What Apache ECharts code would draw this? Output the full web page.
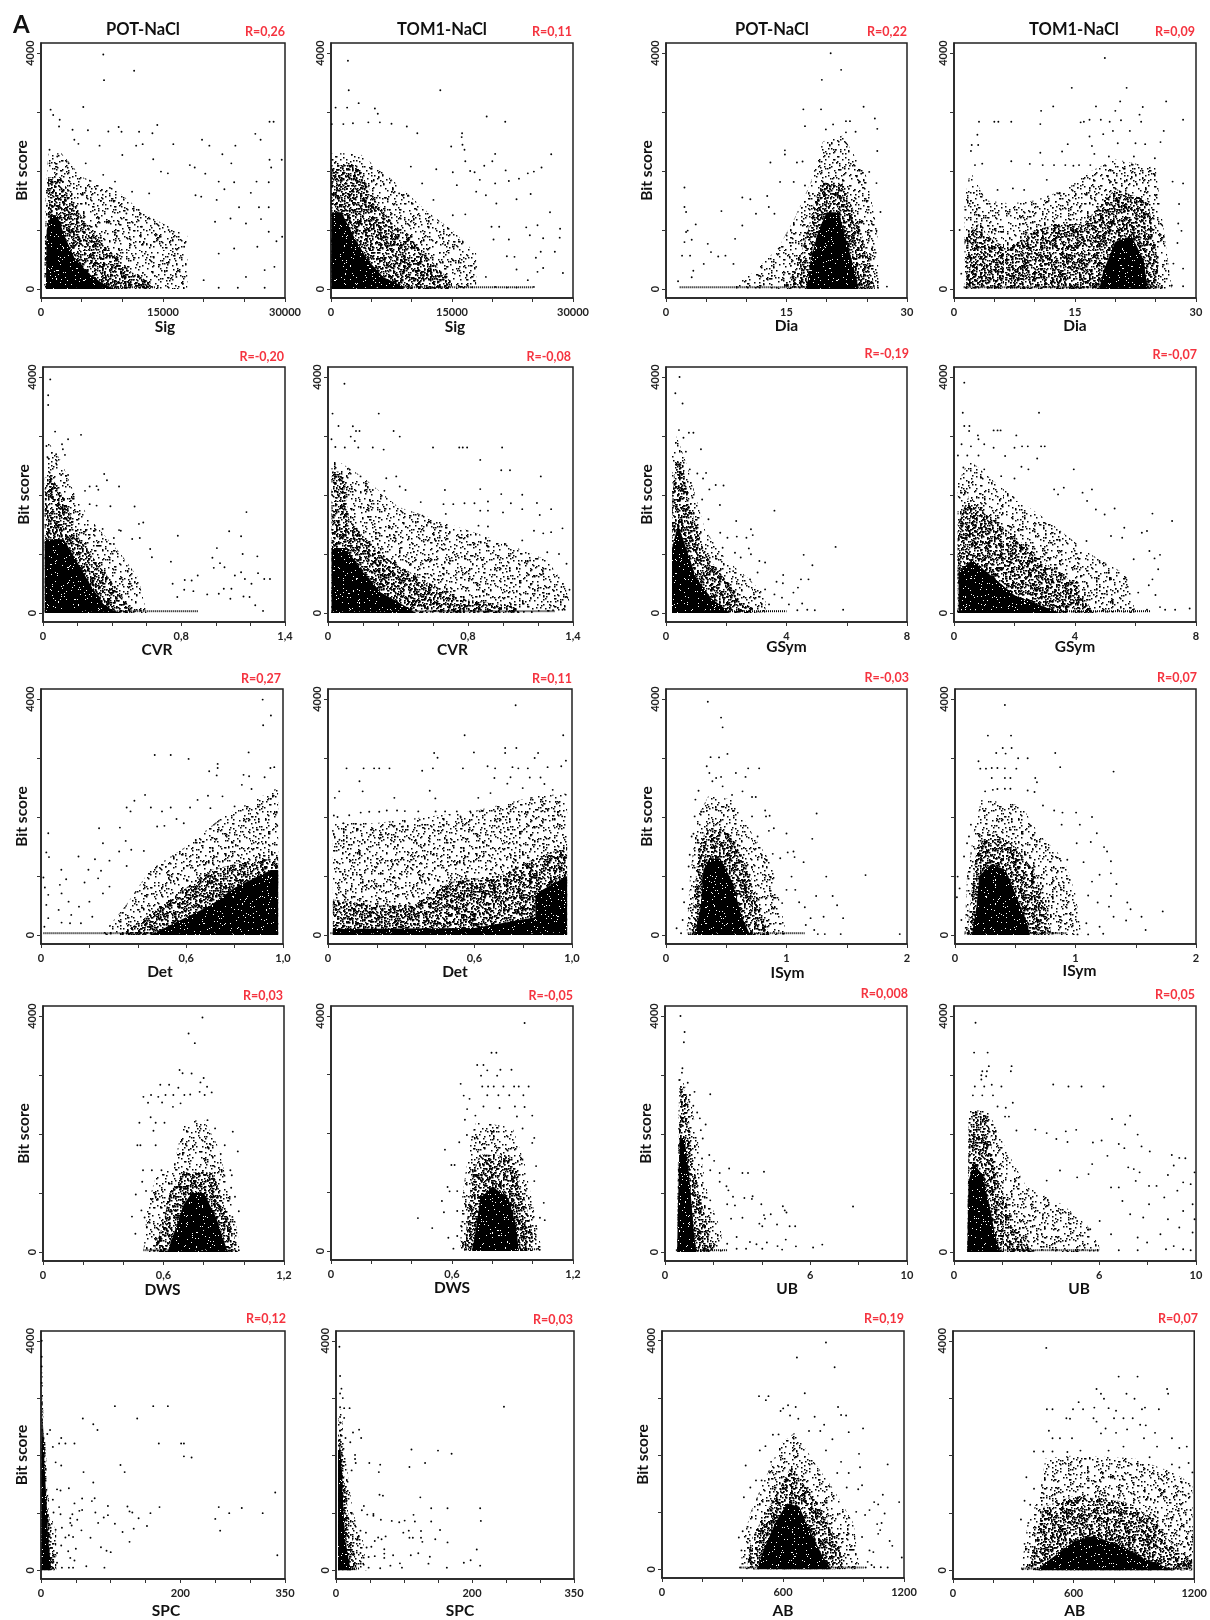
<!DOCTYPE html>
<html><head><meta charset="utf-8">
<script src="https://cdn.jsdelivr.net/npm/echarts@6/dist/echarts.min.js"></script>
<style>html,body{margin:0;padding:0;background:#fff}#c{width:1210px;height:1620px}</style></head>
<body><div id="c"></div>
<script>
// NOTE: the reference has thousands of points per panel. The *Dots arrays are a hand-read sample of
// the visible sparse points. The dense clouds are NOT individual points: *Lite/*Mid/*Solid are outlines
// estimated from the picture and filled with a stipple texture, so those speckles carry no data.
// Tick labels
const yTickValues=[0,1000,2000,3000,4000];
const yLabelValues=[0,4000];
const sigTicks=[0,5000,10000,15000,20000,25000,30000], sigLabels=[[0,'0'],[15000,'15000'],[30000,'30000']];
const diaTicks=[0,5,10,15,20,25,30], diaLabels=[[0,'0'],[15,'15'],[30,'30']];
const cvrTicks=[0,.2,.4,.6,.8,1,1.2,1.4], cvrLabels=[[0,'0'],[.8,'0,8'],[1.4,'1,4']];
const gsymTicks=[0,2,4,6,8], gsymLabels=[[0,'0'],[4,'4'],[8,'8']];
const detTicks=[0,.2,.4,.6,.8,1], detLabels=[[0,'0'],[.6,'0,6'],[1,'1,0']];
const isymTicks=[0,.5,1,1.5,2], isymLabels=[[0,'0'],[1,'1'],[2,'2']];
const dwsTicks=[0,.2,.4,.6,.8,1,1.2], dwsLabels=[[0,'0'],[.6,'0,6'],[1.2,'1,2']];
const ubTicks=[0,2,4,6,8,10], ubLabels=[[0,'0'],[6,'6'],[10,'10']];
const spcTicks=[0,50,100,150,200,250,300,350], spcLabels=[[0,'0'],[200,'200'],[350,'350']];
const abTicks=[0,200,400,600,800,1000,1200], abLabels=[[0,'0'],[600,'600'],[1200,'1200']];

// Sig POT
const sigPotSolid=[[600,0],[700,1000],[1200,1250],[2000,1250],[2900,900],[4200,500],[6000,250],[7500,100],[9000,0]];
const sigPotMid=[[400,0],[500,1000],[900,1900],[2500,1900],[4200,1400],[6500,900],[8500,650],[11000,300],[13500,100],[13500,0]];
const sigPotLite=[[500,0],[500,1500],[900,2300],[2500,2300],[5000,1900],[9000,1700],[13000,1250],[18000,900],[18000,0]];
const sigPotBase=[[600,30],[14000,30]];
const sigPotDots=[[7660,3975],[11450,3700],[7750,3540],[5200,3085],[1180,3040],[1500,2950],[2300,2870],[2220,2755],[3880,2700],[5770,2690],[4100,2530],[4600,2460],[8280,2670],[9550,2745],[9900,2665],[12060,2665],[13700,2640],[14300,2780],[12500,2455],[11700,2430],[16270,2455],[19800,2530],[20700,2430],[23900,2430],[26350,2630],[27000,2530],[28100,2835],[28600,2835],[29600,2190],[28100,2190],[28300,2060],[22300,2285],[23400,2130],[18300,2100],[18900,2060],[14750,1990],[15600,1960],[20200,1955],[21850,1820],[23750,1810],[26500,1820],[28000,1810],[22550,1690],[25800,1630],[19000,1590],[19700,1565],[21600,1510],[24350,1385],[26800,1385],[28000,1385],[27050,1185],[23300,1195],[25200,1110],[21400,1140],[28000,970],[29650,885],[28950,810],[23750,685],[26600,715],[21850,600],[28700,375],[27500,320],[25200,205],[24200,20],[21850,20],[27500,20],[20000,150],[16650,205],[17600,715],[13800,545],[15700,1000],[12400,1055],[10500,1280],[11200,1650],[13300,1620],[9100,1820],[7650,1935],[7200,2430],[10000,2270],[13800,2200],[5500,2130],[3400,2130],[1050,2360],[2000,2245],[1050,2130]];
// Sig TOM1
const sigTomSolid=[[100,0],[100,1300],[1300,1300],[2800,900],[4500,500],[6500,200],[9000,40],[9000,0]];
const sigTomMid=[[50,0],[50,2100],[3200,2100],[5500,1500],[7800,1100],[10500,750],[13000,400],[15000,100],[15000,0]];
const sigTomLite=[[50,0],[50,2300],[3500,2300],[8000,1800],[12000,1300],[15000,1000],[18000,600],[18000,0]];
const sigTomBase=[[100,30],[25000,30]];
const sigTomDots=[[2100,3870],[2200,3370],[3430,3150],[570,3075],[2000,3075],[5440,3060],[5800,2970],[100,2795],[1530,2795],[2720,2810],[4630,2825],[6060,2825],[7500,2800],[9400,2755],[10700,2640],[13550,3370],[19300,2925],[21600,2835],[16250,2640],[16200,2575],[16300,2445],[14900,2415],[16550,2360],[27300,2285],[20350,2290],[16650,2165],[20000,2165],[19000,2090],[26100,2060],[21650,2010],[25150,1990],[24400,1960],[13050,2030],[15100,1980],[17250,2000],[17800,1980],[18450,1850],[22050,1830],[23300,1870],[20350,1790],[15600,1760],[18000,1650],[19200,1590],[24750,1610],[23000,1520],[20500,1450],[27150,1300],[16650,1265],[15100,1250],[24200,1045],[25600,1080],[28400,1020],[24650,910],[26300,860],[28350,870],[19900,1055],[20850,1055],[20150,840],[22050,840],[27750,630],[26000,630],[25400,530],[21800,555],[22750,545],[23000,330],[26300,355],[25600,290],[28750,270],[24400,150],[25150,35],[23000,25],[20350,35],[21800,25],[17500,30],[19200,205],[18000,375],[15100,490],[14150,745],[11300,1790],[12700,1510],[9900,2075],[8450,1620]];
// Dia POT
const diaPotSolid=[[17.5,0],[18,500],[19,1000],[20,1300],[21.5,1300],[22.5,800],[23.5,300],[24,0]];
const diaPotMid=[[14.5,0],[16,300],[17.5,900],[18.5,1500],[19.5,1800],[22,1800],[24,1100],[25.5,400],[26,0]];
const diaPotLite=[[8,0],[11,300],[14,700],[16,1200],[18,1800],[19.5,2500],[22,2600],[25,1900],[26.3,1000],[26.5,0]];
const diaPotBase=[[1.7,30],[26,30]];
const diaPotDots=[[20.5,3995],[21.8,3715],[19.4,3545],[17.1,3045],[19.3,3045],[24.6,3090],[26,2890],[26.3,2715],[17.3,2760],[22.4,2845],[22.9,2845],[20.8,2790],[19.9,2705],[22.4,2655],[23.6,2665],[13,2145],[14.8,2280],[14.8,2350],[16.3,2145],[17,2160],[14.2,1815],[15.9,1815],[17.3,1755],[12.6,1575],[9.5,1550],[10.5,1520],[6.9,1320],[2.3,1720],[2.3,1390],[2.5,1305],[3.7,1095],[2.5,965],[2.7,990],[3.2,835],[2.3,795],[2,565],[3,565],[5.2,765],[5.6,625],[6.5,550],[7.4,565],[8.4,425],[3.4,310],[3.2,200],[1.5,130],[4.7,425],[9.5,1075],[8.6,850],[11.2,1275],[12.8,1390],[13.5,1275],[24.3,1955],[25.3,1985],[26.2,1795],[26.7,1305],[26.3,2340],[27.5,40],[26.2,990],[25.7,710]];
// Dia TOM1
const diaTomSolid=[[18,0],[18.5,300],[20,800],[22,900],[23.5,500],[24,0]];
const diaTomMid=[[1.5,0],[1.5,900],[3,1100],[5,800],[7,700],[10,1000],[13,1100],[16,1100],[18,1400],[20,1700],[24,1500],[25,800],[25.5,0]];
const diaTomLite=[[1.3,0],[1.3,1500],[2,2000],[4,1500],[7,1450],[10,1500],[14,1700],[17,2000],[20,2200],[25,2050],[26,1000],[27,0]];
const diaTomBase=[[1.2,30],[26,30]];
const diaTomDots=[[18.7,3915],[14.6,3410],[21.4,3410],[26.3,3180],[20.6,3180],[12.3,3095],[10.8,3020],[17.6,3095],[20,3020],[23.4,3085],[23,2955],[28.4,2870],[3.1,2835],[5,2835],[5.5,2835],[7.1,2835],[10.7,2795],[15.7,2825],[16.1,2835],[16.8,2870],[18.2,2870],[19.3,2835],[20.7,2860],[23.2,2835],[2.9,2615],[26,2680],[19.7,2680],[21.8,2680],[18.5,2625],[16.8,2585],[2.2,2440],[3,2440],[2.1,2340],[14.1,2455],[17.1,2425],[20.3,2470],[22.5,2470],[23.7,2455],[25.6,2490],[10.7,2310],[13.4,2330],[17.4,2290],[19.2,2245],[22.3,2245],[24.9,2215],[2.6,2100],[3.5,2125],[7.1,2165],[9.4,2120],[11,2100],[12.4,2100],[13.8,2100],[14.8,2090],[15.5,2100],[16.9,2100],[27.1,1820],[28.4,1790],[27.9,1440],[27.8,1110],[28.2,985],[27.7,780],[27.2,430],[28.4,345],[28.4,45],[27,60],[.7,1000],[.9,260],[7.3,1705],[5.4,1680],[4,1510],[8.7,1680],[11.5,1850],[12.9,1620]];
// CVR POT
const cvrPotSolid=[[.01,0],[.01,1250],[.12,1250],[.2,850],[.28,450],[.35,150],[.4,50],[.45,0]];
const cvrPotMid=[[.01,0],[.01,2300],[.05,2300],[.13,1900],[.2,1300],[.3,900],[.42,450],[.5,100],[.55,0]];
const cvrPotLite=[[.01,0],[.01,2300],[.03,2900],[.1,2600],[.2,1900],[.3,1500],[.45,1000],[.55,600],[.6,0]];
const cvrPotBase=[[.01,30],[.9,30]];
const cvrPotDots=[[.042,3960],[.03,3690],[.03,3525],[.07,3075],[.22,3020],[.145,2945],[.11,2860],[.02,2830],[.115,2775],[.076,2690],[.127,2680],[.027,2635],[.076,2535],[.354,2355],[.37,2250],[.105,2340],[.145,2340],[.27,2145],[.31,2150],[.44,2145],[.243,2070],[.32,2090],[.27,1845],[.31,1820],[.39,1810],[.53,1805],[.58,1535],[.555,1510],[.44,1405],[.345,1425],[.78,1310],[1.177,1710],[1.077,1385],[1.146,1300],[1.006,1100],[1.155,1000],[1.24,960],[.98,935],[1.024,845],[.988,765],[1.05,775],[1.11,635],[1.146,690],[1.244,675],[1.168,575],[1.28,575],[1.313,575],[1.206,495],[1.046,410],[1.09,410],[.95,315],[1.017,325],[1.16,280],[1.195,270],[1.084,240],[1.228,130],[1.273,35],[.895,635],[.82,560],[.86,550],[.75,495],[.74,870],[.63,945],[.62,1085],[.56,1270],[.516,1255],[.41,1270],[.41,1170],[.45,1395],[.87,370],[.817,395],[.777,270]];
// CVR TOM1
const cvrTomSolid=[[.02,0],[.02,1100],[.1,1100],[.2,700],[.3,350],[.45,100],[.5,0]];
const cvrTomMid=[[.02,0],[.02,2400],[.08,2400],[.12,1600],[.2,1300],[.35,900],[.55,550],[.75,250],[1.05,120],[1.1,0]];
const cvrTomLite=[[.02,0],[.02,2650],[.2,2300],[.4,1800],[.7,1500],[1,1200],[1.25,900],[1.35,500],[1.4,0]];
const cvrTomBase=[[.02,30],[1.3,30]];
const cvrTomDots=[[.094,3885],[.026,3380],[.29,3380],[.06,3170],[.142,3165],[.16,3085],[.18,3085],[.13,2990],[.153,2915],[.02,2945],[.375,3085],[.41,2990],[.042,2815],[.096,2805],[.173,2805],[.256,2805],[.318,2770],[.6,2805],[.75,2805],[.77,2805],[.795,2805],[.995,2805],[.87,2595],[.99,2420],[1.04,2420],[1.216,2315],[.39,2315],[.186,2315],[.333,2285],[1.11,2005],[.99,2015],[.87,2100],[.668,2085],[.443,2085],[.41,2145],[.322,2070],[.213,2085],[.256,2085],[.53,1880],[.66,1845],[.716,1845],[.78,1860],[.837,1860],[.914,1890],[1.045,1860],[1.194,1865],[1.275,1760],[1.21,1660],[.87,1735],[.914,1735],[1,1705],[1.11,1760],[1.34,1435],[1.275,1370],[1.23,1350],[1.177,1395],[1.363,835],[1.32,1000],[1.253,1030],[1.334,440],[1.38,395],[1.358,270],[1.34,55],[1.286,45],[1.264,325],[1.2,465],[1.23,665],[1.155,890],[1.11,1230],[.86,1480],[.914,1465],[.673,1680],[.607,1510],[.54,1650]];
// GSym POT
const gsymPotSolid=[[.2,0],[.2,1100],[.4,1500],[.6,1200],[1,600],[1.5,250],[2,60],[2.1,0]];
const gsymPotMid=[[.2,0],[.2,1800],[.3,2600],[.55,2500],[.9,1650],[1.3,1000],[2,550],[2.5,200],[3,50],[3.2,0]];
const gsymPotLite=[[.2,0],[.2,2700],[.35,3000],[.7,2500],[1.3,1400],[2,900],[2.7,600],[3.3,300],[3.3,0]];
const gsymPotBase=[[.2,30],[4,30]];
const gsymPotDots=[[.45,4000],[.31,3725],[.55,3550],[.43,3100],[.76,3055],[.91,3055],[.58,2970],[1.16,2775],[.66,2735],[.79,2435],[1.33,2375],[1.04,2365],[1.23,2280],[1.65,2170],[1.91,2160],[1.44,2095],[.88,1955],[1.79,1830],[1.2,1925],[3.6,1735],[2.33,1560],[1.41,1590],[2.82,1420],[2.88,1320],[2.35,1295],[2.67,1275],[1.8,1360],[2.04,1275],[5.63,1120],[4.57,985],[2.75,1095],[2.82,995],[1.88,1105],[2.29,1020],[4.86,810],[3.1,880],[3.29,855],[3.89,645],[3.88,505],[4.48,570],[4.73,570],[4.38,430],[2.79,570],[3.29,400],[3.67,530],[4.23,345],[3.85,260],[4.52,160],[4.69,55],[4.94,45],[5.88,55],[4.08,145],[4.36,45],[2.48,940],[2.23,710],[3.04,685],[3.6,315],[2.92,315],[3.42,145]];
// GSym TOM1
const gsymTomSolid=[[.15,0],[.15,700],[.6,900],[1.3,600],[2,300],[3,100],[3.5,0]];
const gsymTomMid=[[.12,0],[.12,1500],[.5,2000],[1,1700],[2,1300],[3,850],[4,500],[4.5,100],[4.6,0]];
const gsymTomLite=[[.12,0],[.12,2200],[.5,2600],[1.5,2150],[3,1600],[4.5,1000],[5.7,650],[6,0]];
const gsymTomBase=[[.1,30],[6.5,30]];
const gsymTomDots=[[.34,3905],[.29,3395],[2.81,3395],[.34,3170],[.51,3170],[.5,3085],[1.31,3095],[1.44,3095],[1.54,3095],[.79,3010],[2.06,3010],[.81,2945],[.25,2860],[.56,2825],[1,2860],[1.31,2800],[2,2800],[2.25,2825],[2.44,2825],[2.88,2825],[3,2825],[.13,2670],[.44,2670],[.81,2670],[1.69,2660],[2.75,2620],[3.96,2435],[2.23,2480],[2.46,2435],[.31,2465],[1,2435],[1.56,2320],[2,2280],[3.31,2095],[3.63,2125],[4.56,2095],[4.25,2040],[3.44,2010],[4.4,1900],[4.69,1755],[5.31,1770],[4.98,1670],[6.56,1685],[7.21,1560],[5.63,1445],[6.38,1390],[6.21,1360],[5.56,1275],[5.19,1305],[6.46,1050],[6.81,985],[6.63,925],[5.94,910],[6.75,740],[6.56,570],[6.44,470],[6.09,345],[6.66,305],[5.69,430],[6.81,100],[6.98,55],[7.31,55],[7.79,75],[6.38,55],[5.94,60],[5.19,570],[4.81,880],[4.38,1220],[5.06,315]];
// Det POT
const detPotSolid=[[.45,0],[.6,300],[.7,500],[.8,800],[.95,1100],[.98,1100],[.98,0]];
const detPotMid=[[.33,0],[.5,500],[.6,800],[.7,1100],[.85,1250],[.98,1300],[.98,0]];
const detPotLite=[[.25,0],[.35,500],[.45,1100],[.6,1500],[.75,2000],[.98,2500],[.98,0]];
const detPotBase=[[.01,30],[.98,30]];
const detPotDots=[[.916,3990],[.95,3720],[.918,3555],[.858,3095],[.47,3050],[.536,3050],[.61,2985],[.73,2900],[.73,2830],[.695,2775],[.726,2705],[.964,2845],[.948,2830],[.837,2715],[.86,2690],[.924,2675],[.83,2545],[.87,2475],[.43,2375],[.386,2275],[.354,2160],[.37,2095],[.454,2160],[.536,2160],[.5,2095],[.616,2160],[.647,2290],[.69,2360],[.75,2350],[.8,2180],[.7,2150],[.56,1965],[.59,1895],[.48,1840],[.51,1850],[.24,1810],[.326,1820],[.03,1725],[.256,1555],[.35,1595],[.022,1400],[.033,1320],[.155,1330],[.223,1285],[.283,1260],[.323,1415],[.373,1445],[.425,1425],[.084,1105],[.196,1105],[.248,1090],[.354,1170],[.01,975],[.104,945],[.236,960],[.18,890],[.016,805],[.078,850],[.085,705],[.03,680],[.114,565],[.022,510],[.157,480],[.2,565],[.256,705],[.283,820],[.073,425],[.03,285],[.125,340],[.212,310],[.085,210],[.014,140],[.12,200],[.165,200]];
// Det TOM1
const detTomSolid=[[.02,0],[.02,100],[.6,120],[.85,300],[.85,700],[.98,1000],[.98,0]];
const detTomMid=[[.02,0],[.02,600],[.2,500],[.35,500],[.5,900],[.7,1000],[.85,1300],[.98,1500],[.98,0]];
const detTomLite=[[.02,0],[.02,1900],[.2,1900],[.4,2000],[.6,2100],[.85,2350],[.98,2400],[.98,0]];
const detTomBase=[[.01,30],[.98,30]];
const detTomDots=[[.769,3895],[.56,3385],[.964,3385],[.975,2955],[.435,3085],[.449,3005],[.598,3095],[.726,3170],[.726,3085],[.772,3170],[.861,3085],[.847,3000],[.076,2825],[.146,2825],[.189,2825],[.21,2825],[.252,2825],[.386,2785],[.43,2825],[.553,2825],[.654,2860],[.685,2825],[.756,2845],[.78,2825],[.819,2825],[.9,2845],[.956,2860],[.682,2660],[.748,2675],[.827,2670],[.871,2670],[.129,2605],[.046,2435],[.142,2435],[.028,2325],[.272,2325],[.417,2445],[.44,2315],[.616,2325],[.666,2405],[.735,2565],[.798,2490],[.887,2560],[.921,2460],[.024,2025],[.039,2000],[.087,2030],[.134,2075],[.169,2090],[.21,2090],[.241,2110],[.283,2110],[.315,2100],[.37,2095],[.441,2095],[.48,2095],[.528,2095],[.583,2095],[.622,2095],[.685,2095],[.748,2095],[.874,2095],[.929,2095],[.96,2010],[.02,1765],[.063,1895],[.134,1870],[.26,1870],[.307,1840],[.386,1870],[.543,2010],[.7,1840],[.795,1755],[.047,1615],[.173,1700],[.276,1670]];
// ISym POT
const isymPotSolid=[[.24,0],[.29,500],[.31,1100],[.36,1300],[.45,1300],[.55,900],[.63,300],[.7,0]];
const isymPotMid=[[.2,0],[.24,800],[.27,1500],[.34,1800],[.5,1750],[.62,1400],[.72,900],[.8,300],[.86,0]];
const isymPotLite=[[.17,0],[.2,1000],[.26,2000],[.35,2350],[.55,2300],[.72,1700],[.88,1200],[.95,500],[1,0]];
const isymPotBase=[[.18,30],[1.15,30]];
const isymPotDots=[[.347,3955],[.457,3685],[.47,3520],[.51,3070],[.37,3015],[.44,3010],[.338,2860],[.36,2745],[.682,2825],[.773,2825],[.66,2680],[.58,2745],[.416,2660],[.457,2680],[.385,2605],[.635,2435],[.714,2340],[.745,2340],[.27,2445],[.244,2295],[.47,2520],[.548,2375],[.823,2110],[.83,2010],[.86,2020],[1.25,2060],[.714,2010],[.895,1810],[.854,1765],[1,1720],[1.214,1630],[.238,2010],[.228,1715],[.213,1670],[.76,1670],[1.058,1415],[1.01,1400],[.886,1375],[.948,1300],[1.067,1320],[1.142,1235],[1.33,990],[1.656,1015],[1.042,990],[.197,1360],[.188,1160],[.138,780],[.15,555],[.188,450],[.138,255],[.088,115],[.125,30],[1.246,660],[1.383,660],[1.42,505],[1.308,310],[1.47,285],[1.073,765],[1.152,470],[1.105,555],[1.2,285],[1.16,170],[1.94,15],[1.45,15],[1.318,15],[1.26,15],[1.23,85],[1,765],[.964,540]];
// ISym TOM1
const isymTomSolid=[[.14,0],[.18,500],[.2,1000],[.3,1200],[.42,1100],[.52,600],[.6,200],[.62,0]];
const isymTomMid=[[.1,0],[.14,800],[.18,1500],[.3,1750],[.5,1500],[.65,1100],[.75,500],[.8,0]];
const isymTomLite=[[.08,0],[.1,1000],[.16,1800],[.22,2300],[.55,2200],[.7,1700],[.9,1300],[1,700],[1.05,0]];
const isymTomBase=[[.08,30],[.93,30]];
const isymTomDots=[[.414,3900],[.273,3380],[.465,3380],[.396,3170],[.47,3170],[.342,3085],[.42,3075],[.524,2995],[.603,2995],[.832,3085],[.195,2945],[.873,2845],[1.316,2770],[.21,2820],[.257,2820],[.305,2830],[.352,2830],[.414,2825],[.509,2820],[.305,2660],[.414,2660],[.46,2660],[.666,2660],[.68,2590],[.314,2460],[.352,2475],[.414,2480],[.46,2480],[.603,2450],[.66,2425],[.25,2435],[.73,2195],[.823,2110],[.892,2075],[1.005,2075],[1.137,2000],[1.177,1725],[1.127,1575],[1.237,1490],[1.036,1870],[.885,1870],[1.01,1555],[1.262,1415],[1.294,1250],[1.2,1020],[1.294,1045],[1.34,865],[1.067,1235],[.932,1275],[1.137,905],[1.294,660],[1.278,480],[1.43,550],[1.457,435],[1.316,310],[1.42,245],[1.548,310],[1.724,400],[1.582,85],[1.184,550],[1.105,670],[1.2,140],[1.09,200],[1.23,20],[1.105,10],[1.017,10],[.022,990],[.016,640],[.038,790],[.053,255],[.1,1555],[.075,1330],[.132,1870],[.116,1670]];
// DWS POT
const dwsPotSolid=[[.62,0],[.66,400],[.7,800],[.74,1000],[.8,1000],[.86,600],[.9,200],[.92,0]];
const dwsPotMid=[[.55,0],[.6,500],[.63,1000],[.7,1350],[.85,1350],[.9,800],[.95,300],[.97,0]];
const dwsPotLite=[[.5,0],[.52,800],[.56,1250],[.65,1450],[.7,2200],[.8,2250],[.87,1800],[.93,1000],[.97,300],[.98,0]];
const dwsPotBase=[[.5,30],[.96,30]];
const dwsPotDots=[[.794,3975],[.725,3705],[.756,3540],[.68,3085],[.695,3030],[.74,3025],[.8,2950],[.784,2875],[.817,2800],[.78,2715],[.84,2705],[.584,2835],[.628,2835],[.674,2785],[.5,2630],[.538,2660],[.574,2630],[.61,2660],[.649,2660],[.704,2660],[.733,2670],[.805,2660],[.523,2530],[.593,2535],[.647,2460],[.685,2520],[.48,2190],[.536,2285],[.561,2190],[.605,2190],[.945,2040],[.55,2055],[.47,1810],[.485,1810],[.97,1705],[.561,1810],[.819,2235],[.857,2095],[.905,1810],[.885,1660],[.498,1385],[.542,1385],[.59,1385],[.933,1385],[.94,1300],[.494,1190],[.513,1035],[.462,975],[.937,1090],[.956,935],[.975,690],[.943,595],[.49,705],[.443,600],[.506,585],[.517,415],[.46,310],[.952,310],[.975,30],[.93,370],[.561,935]];
// DWS TOM1
const dwsTomSolid=[[.7,0],[.72,400],[.74,900],[.8,1100],[.88,900],[.92,400],[.93,0]];
const dwsTomMid=[[.66,0],[.68,700],[.7,1300],[.74,1650],[.9,1600],[.96,900],[1,300],[1,0]];
const dwsTomLite=[[.64,0],[.65,900],[.67,1400],[.7,2000],[.72,2200],[.9,2100],[.96,1500],[1,800],[1.04,100],[1.04,0]];
const dwsTomBase=[[.66,30],[1.03,30]];
const dwsTomDots=[[.96,3880],[.796,3375],[.82,3375],[.725,3165],[.756,3165],[.775,3075],[.84,3085],[.895,3085],[.744,2985],[.824,2985],[.643,2845],[.75,2800],[.779,2800],[.807,2800],[.855,2800],[.908,2800],[.931,2800],[.98,2800],[.658,2645],[.687,2590],[.775,2650],[.83,2650],[.884,2650],[.954,2650],[.675,2415],[.756,2460],[.836,2435],[.912,2460],[.96,2450],[.998,2305],[.716,2305],[.922,2290],[.664,2235],[.674,1975],[.95,2085],[1.008,1925],[.998,1840],[.636,1850],[.565,1725],[.597,1465],[.613,1465],[1.017,1445],[1.008,1190],[.578,1090],[.588,1015],[.626,1020],[.55,850],[.56,660],[.626,680],[.431,560],[.502,390],[.582,225],[.607,40],[1.055,820],[1.06,525],[1.036,565],[1.027,40],[1.017,425],[.626,255],[.655,140],[.645,425]];
// UB POT
const ubPotSolid=[[.5,0],[.55,1000],[.6,1900],[.8,1950],[1,1300],[1.1,800],[1.2,300],[1.3,0]];
const ubPotMid=[[.5,0],[.55,1800],[.65,2800],[.9,2700],[1.1,1700],[1.4,1000],[1.8,400],[2,0]];
const ubPotLite=[[.5,0],[.55,2300],[.62,3000],[1.05,2600],[1.4,1800],[1.8,900],[2.3,400],[2.4,0]];
const ubPotBase=[[.45,30],[2.6,30]];
const ubPotDots=[[.64,4000],[.81,3730],[.78,3555],[.72,3115],[.7,3040],[.59,2915],[.94,2870],[.78,2790],[.7,2715],[.86,2660],[1.22,2715],[1.03,2660],[1.87,2675],[1.01,2545],[1.17,2480],[1.33,2365],[1.44,2265],[1.68,2160],[1.48,2065],[1.56,1925],[1.83,1645],[2.03,1545],[1.53,1585],[1.87,1385],[2.65,1415],[2.26,1340],[3.2,1340],[3.43,1340],[4.09,1360],[2.26,1190],[2.54,1115],[2.62,1045],[1.87,875],[3.62,945],[3.28,915],[3.59,900],[2.81,935],[2.57,810],[3.98,810],[2.89,790],[4.87,775],[4.95,705],[5.02,670],[7.77,770],[4.37,640],[4.09,625],[4.13,565],[3.2,580],[2.73,565],[3.9,480],[4.02,435],[4.63,465],[5.15,435],[5.38,435],[2.96,255],[3.51,170],[4.21,160],[4.99,210],[2.57,140],[3.78,130],[4.65,100],[4.02,55],[4.84,40],[5.41,95],[6.12,75],[6.5,125],[3.35,55],[2.96,55]];
// UB TOM1
const ubTomSolid=[[.55,0],[.6,1200],[.8,1500],[1.2,1300],[1.5,700],[1.7,300],[1.9,0]];
const ubTomMid=[[.55,0],[.6,2000],[.8,2400],[1.4,2300],[1.6,1600],[2,1000],[2.5,500],[3,150],[3.3,0]];
const ubTomLite=[[.55,0],[.6,2400],[1.4,2400],[2.2,1700],[3,1100],[4.5,800],[5.5,450],[6,100],[6,0]];
const ubTomBase=[[.55,30],[5.9,30]];
const ubTomDots=[[.89,3885],[.83,3380],[1.39,3380],[1.44,3150],[2.38,3150],[2.35,3065],[1.17,3065],[1.36,3065],[1.13,2995],[1.13,2925],[1.33,2980],[1.56,2835],[1.96,2805],[4.1,2840],[4.73,2805],[5.27,2805],[6.18,2805],[.86,2805],[1.25,2805],[.78,2655],[1.17,2655],[1.61,2655],[2.43,2530],[2.14,2445],[1.8,2465],[2.27,2295],[2.11,2295],[6.53,2255],[7.28,2310],[7.07,2160],[3.36,2075],[2.58,2060],[3.83,2015],[4.62,2045],[5.05,2070],[7.59,1990],[4.23,1915],[4.69,1865],[5.74,1855],[6.1,1890],[6.81,1830],[7.04,1760],[7.75,1790],[8.09,1705],[6.34,1630],[9,1645],[9.31,1595],[9.56,1590],[9.08,1465],[9.94,1350],[8.84,1305],[7.67,1350],[7.2,1435],[7.43,1405],[9.47,1180],[9.78,1150],[9.23,1040],[8.06,1120],[8.37,1120],[7.51,1205],[6.81,1095],[6.49,1095],[5.56,1320],[5.09,1265],[4.38,1380],[5.71,1490],[3.83,1210],[9.86,810],[9.47,695],[8.69,925],[8.06,810],[7.28,640],[7.82,585],[8.84,555],[9.94,555],[9.31,415],[9.86,330],[8.53,300],[7.59,245],[7.98,160],[9.08,100],[9.47,45],[9.78,30],[8.76,45],[7.59,30],[6.81,30],[6.49,300],[6.02,525],[5.63,385],[5.09,525],[4.62,185],[3.68,640],[3.21,810],[4.3,695],[6.96,865]];
// SPC POT
const spcPotSolid=[[1,0],[1,1700],[2,2700],[4,2300],[5,1800],[8,1200],[10,600],[14,100],[15,0]];
const spcPotMid=[[1,0],[1,3100],[2,3100],[3,2400],[7,2200],[9,1300],[13,800],[18,300],[20,0]];
const spcPotLite=[[1,0],[1,3500],[2,3500],[4,2300],[8,1500],[14,1000],[22,600],[22,0]];
const spcPotBase=[[1,30],[14,30]];
const spcPotDots=[[1,4000],[1,3720],[1,3550],[1,3265],[106,2860],[161,2860],[182,2860],[60,2645],[138,2645],[75,2545],[81,2445],[13,2445],[9,2375],[29,2305],[26,2210],[35,2210],[48,2210],[169,2210],[201,2210],[205,2210],[17,2150],[205,1985],[216,1965],[21,1880],[29,1825],[114,1835],[120,1710],[61,1710],[75,1530],[23,1410],[28,1390],[40,1430],[336,1355],[59,1250],[73,1205],[77,1255],[17,1230],[48,1165],[96,1120],[124,1110],[170,1100],[255,1100],[288,1085],[26,1100],[59,1050],[55,1035],[127,1025],[131,1005],[157,995],[270,995],[318,995],[78,1005],[18,1005],[28,975],[45,975],[96,960],[90,920],[140,905],[250,895],[42,905],[52,880],[42,825],[82,825],[106,810],[152,770],[44,780],[30,740],[133,725],[257,690],[58,695],[117,665],[21,705],[40,610],[35,570],[46,580],[71,565],[127,495],[29,430],[86,400],[50,375],[94,340],[100,315],[39,330],[339,260],[23,300],[42,215],[48,170],[23,130],[65,70],[91,45],[30,45],[40,45],[46,45],[17,45]];
// SPC TOM1
const spcTomSolid=[[3,0],[3,2000],[6,2200],[9,1700],[11,1000],[14,500],[20,100],[22,0]];
const spcTomMid=[[3,0],[3,2400],[9,2200],[13,1500],[18,1000],[25,500],[30,100],[30,0]];
const spcTomLite=[[3,0],[3,2800],[8,2800],[12,2200],[18,1600],[25,1000],[40,500],[45,0]];
const spcTomBase=[[3,30],[35,30]];
const spcTomDots=[[5,3895],[6,3385],[8,3165],[6,3080],[10,3000],[6,2840],[12,2825],[20,2825],[247,2850],[6,2670],[12,2655],[6,2575],[34,2450],[25,2400],[6,2435],[14,2305],[37,2305],[21,2230],[111,2105],[150,2085],[170,2030],[28,2010],[28,1940],[29,1870],[49,1870],[65,1840],[131,1870],[108,1800],[63,1710],[23,1740],[64,1315],[69,1300],[124,1270],[41,1120],[38,1045],[140,1080],[164,1080],[212,1080],[46,970],[55,980],[55,950],[114,965],[66,880],[82,860],[93,835],[101,865],[116,850],[140,850],[213,860],[153,700],[125,685],[99,655],[107,690],[73,590],[44,655],[62,570],[67,540],[108,565],[113,565],[125,565],[146,540],[127,495],[164,485],[28,780],[36,690],[32,580],[57,510],[52,410],[45,395],[71,365],[207,360],[121,295],[84,260],[110,260],[138,235],[71,290],[36,300],[48,230],[57,245],[71,215],[198,175],[188,130],[136,115],[94,120],[80,80],[212,80],[163,45],[97,45],[65,35],[48,45],[40,115],[25,160]];
// AB POT
const abPotSolid=[[470,0],[500,300],[560,800],[620,1150],[680,1100],[730,700],[800,200],[840,0]];
const abPotMid=[[420,0],[440,500],[500,900],[580,1400],[640,1800],[700,1500],[800,1000],[880,400],[900,0]];
const abPotLite=[[390,0],[400,500],[440,1000],[500,1500],[590,2200],[660,2400],[750,1900],[850,1400],[950,800],[980,0]];
const abPotBase=[[390,30],[1000,30]];
const abPotDots=[[813,3970],[669,3705],[856,3535],[481,3030],[528,3030],[515,2960],[708,3080],[873,2840],[625,2870],[663,2840],[588,2770],[601,2815],[888,2700],[913,2690],[635,2690],[757,2670],[676,2635],[804,2530],[997,2465],[926,2400],[785,2420],[550,2355],[578,2360],[513,2155],[485,2080],[845,2275],[977,2020],[729,2420],[813,2080],[1119,1835],[982,1785],[415,1815],[466,1555],[494,1555],[541,1880],[888,1880],[869,1685],[926,1685],[992,1470],[973,1400],[916,1430],[1095,1305],[1176,1175],[1052,1175],[1072,1135],[963,1005],[1104,975],[1029,1035],[1007,950],[406,1260],[438,1430],[1067,790],[1089,810],[1082,685],[992,565],[1072,620],[1129,495],[1142,410],[400,665],[381,555],[394,330],[1029,330],[1048,300],[1189,205],[1020,130],[1039,75],[1119,30],[1085,35],[1052,35],[1010,30],[387,30]];
// AB TOM1
const abTomSolid=[[420,0],[450,100],[600,500],[700,600],[850,400],[950,200],[1100,0]];
const abTomMid=[[380,0],[420,700],[450,1100],[600,1300],[850,1200],[1000,900],[1100,400],[1190,200],[1190,0]];
const abTomLite=[[340,0],[370,800],[430,1300],[460,1950],[600,2000],[900,1950],[1100,1700],[1190,1500],[1195,0]];
const abTomBase=[[340,30],[1190,30]];
const abTomDots=[[464,3875],[824,3375],[918,3375],[1065,3160],[1070,3075],[714,3160],[736,3075],[863,3075],[751,2990],[903,2990],[625,2930],[467,2805],[495,2805],[597,2805],[647,2805],[703,2835],[774,2825],[811,2780],[955,2835],[940,2805],[1024,2805],[564,2650],[582,2640],[699,2650],[801,2650],[848,2650],[894,2650],[714,2590],[931,2535],[959,2525],[759,2470],[866,2455],[811,2395],[477,2430],[495,2300],[532,2300],[592,2300],[736,2385],[950,2300],[1005,2395],[1089,2300],[1163,2155],[1126,2130],[1015,2155],[403,2070],[449,2070],[495,2070],[569,2060],[634,2085],[774,2085],[848,2155],[978,1970],[1172,1870],[1089,1845],[1126,1790],[1191,1705],[365,1620],[403,1420],[356,1210],[384,1140],[1172,1335],[1107,1475],[1182,1050],[338,885],[375,825],[356,460],[375,315],[1163,825],[1126,600],[1191,570],[1182,375],[1126,60],[1172,60],[347,15]];

// Layout table (one row per panel)
const P=(name,xMax,ticks,labels,d,box,r,rxy,bit,nameDx,nameGap)=>({name,xMax,ticks,labels,d,box,r,rxy,bit,nameDx,nameGap});
const panels=[
 P('Sig',30000,sigTicks,sigLabels,[sigPotLite,sigPotMid,sigPotSolid,sigPotBase,sigPotDots],[41,43,244,255],'R=0,26',[285,32],1,2,21),
 P('Sig',30000,sigTicks,sigLabels,[sigTomLite,sigTomMid,sigTomSolid,sigTomBase,sigTomDots],[331,43,242,255],'R=0,11',[572,32],0,3,21),
 P('Dia',30,diaTicks,diaLabels,[diaPotLite,diaPotMid,diaPotSolid,diaPotBase,diaPotDots],[666,43,241,255],'R=0,22',[907,32],1,0,20),
 P('Dia',30,diaTicks,diaLabels,[diaTomLite,diaTomMid,diaTomSolid,diaTomBase,diaTomDots],[954,43,242,255],'R=0,09',[1195,32],0,0,20),
 P('CVR',1.4,cvrTicks,cvrLabels,[cvrPotLite,cvrPotMid,cvrPotSolid,cvrPotBase,cvrPotDots],[43,367,242,255],'R=-0,20',[284,357],1,-7,20),
 P('CVR',1.4,cvrTicks,cvrLabels,[cvrTomLite,cvrTomMid,cvrTomSolid,cvrTomBase,cvrTomDots],[328,367,245,255],'R=-0,08',[571,357],0,2,20),
 P('GSym',8,gsymTicks,gsymLabels,[gsymPotLite,gsymPotMid,gsymPotSolid,gsymPotBase,gsymPotDots],[666,367,241,255],'R=-0,19',[909,354],1,0,17),
 P('GSym',8,gsymTicks,gsymLabels,[gsymTomLite,gsymTomMid,gsymTomSolid,gsymTomBase,gsymTomDots],[954,367,242,255],'R=-0,07',[1197,355],0,0,17),
 P('Det',1,detTicks,detLabels,[detPotLite,detPotMid,detPotSolid,detPotBase,detPotDots],[41,689,242,255],'R=0,27',[281,679],1,-2,20),
 P('Det',1,detTicks,detLabels,[detTomLite,detTomMid,detTomSolid,detTomBase,detTomDots],[328,689,244,255],'R=0,11',[572,679],0,5,20),
 P('ISym',2,isymTicks,isymLabels,[isymPotLite,isymPotMid,isymPotSolid,isymPotBase,isymPotDots],[666,689,241,255],'R=-0,03',[909,678],1,1,21),
 P('ISym',2,isymTicks,isymLabels,[isymTomLite,isymTomMid,isymTomSolid,isymTomBase,isymTomDots],[955,689,241,255],'R=0,07',[1197,678],0,4,19),
 P('DWS',1.2,dwsTicks,dwsLabels,[dwsPotLite,dwsPotMid,dwsPotSolid,dwsPotBase,dwsPotDots],[43,1006,241,255],'R=0,03',[283,996],1,-1,21),
 P('DWS',1.2,dwsTicks,dwsLabels,[dwsTomLite,dwsTomMid,dwsTomSolid,dwsTomBase,dwsTomDots],[331,1006,242,254],'R=-0,05',[573,996],0,0,20),
 P('UB',10,ubTicks,ubLabels,[ubPotLite,ubPotMid,ubPotSolid,ubPotBase,ubPotDots],[665,1006,242,255],'R=0,008',[908,994],1,1,20),
 P('UB',10,ubTicks,ubLabels,[ubTomLite,ubTomMid,ubTomSolid,ubTomBase,ubTomDots],[954,1006,242,255],'R=0,05',[1195,995],0,4,20),
 P('SPC',350,spcTicks,spcLabels,[spcPotLite,spcPotMid,spcPotSolid,spcPotBase,spcPotDots],[41,1331,244,254],'R=0,12',[286,1319],1,3,24),
 P('SPC',350,spcTicks,spcLabels,[spcTomLite,spcTomMid,spcTomSolid,spcTomBase,spcTomDots],[336,1331,238,254],'R=0,03',[573,1320],0,5,24),
 P('AB',1200,abTicks,abLabels,[abPotLite,abPotMid,abPotSolid,abPotBase,abPotDots],[662,1331,242,254],'R=0,19',[904,1319],1,0,25),
 P('AB',1200,abTicks,abLabels,[abTomLite,abTomMid,abTomSolid,abTomBase,abTomDots],[953,1331,245,254],'R=0,07',[1198,1319],0,1,24)
];
const headings=[['POT-NaCl',143],['TOM1-NaCl',442],['POT-NaCl',772],['TOM1-NaCl',1074]];

// Stipple textures for the density zones (texture only, not data)
function tile(n,white){
  const S=251,c=document.createElement('canvas');c.width=c.height=S;
  const g=c.getContext('2d');
  g.fillStyle='#000';
  if(white){g.fillRect(0,0,S,S);g.fillStyle='#fff';}
  for(let i=1;i<=n;i++){
    const jx=Math.abs(Math.sin(i*12.9898)*43758.5453)%1, jy=Math.abs(Math.sin(i*78.233)*12543.1234)%1;
    const x=((i*0.7548776662+jx*0.05)%1)*S, y=((i*0.5698402910+jy*0.05)%1)*S;
    const s=white?1:1.5;
    g.fillRect(Math.round(x),Math.round(y),s,s);
  }
  return {image:c,repeat:'repeat'};
}
const fills=[tile(5000,false),tile(17000,false),tile(2500,true)];

const FONT='Lato';
const grid=[],xAxis=[],yAxis=[],series=[],graphic=[];
panels.forEach((p,i)=>{
  const [l,t,w,h]=p.box;
  grid.push({left:l,top:t,width:w,height:h,show:true,borderColor:'#222',borderWidth:1.5,backgroundColor:'#fff',containLabel:false});
  const lab=v=>{const m=p.labels.find(e=>Math.abs(e[0]-v)<1e-6);return m?m[1]:'';};
  const pad=p.nameDx>=0?[0,0,0,2*p.nameDx]:[0,-2*p.nameDx,0,0];
  xAxis.push({type:'value',gridIndex:i,min:0,max:p.xMax,name:p.name,nameLocation:'middle',nameGap:p.nameGap,nameMoveOverlap:false,
    nameTextStyle:{fontFamily:FONT,fontWeight:'bold',fontSize:15.5,color:'#111',padding:pad},
    splitLine:{show:false},axisLine:{onZero:false,lineStyle:{color:'#222',width:1.5}},
    axisTick:{length:4,customValues:p.ticks,lineStyle:{color:'#333'}},
    axisLabel:{customValues:p.labels.map(e=>e[0]),formatter:lab,margin:9,fontFamily:FONT,fontWeight:'bold',fontSize:11,color:'#222',hideOverlap:false}});
  yAxis.push({type:'value',gridIndex:i,min:-153,max:4170,name:p.bit?'Bit score':'',nameLocation:'middle',nameGap:11,nameRotate:90,nameMoveOverlap:false,
    nameTextStyle:{fontFamily:FONT,fontWeight:'bold',fontSize:15.5,color:'#111'},
    splitLine:{show:false},axisLine:{onZero:false,lineStyle:{color:'#222',width:1.5}},
    axisTick:{length:4,customValues:yTickValues,lineStyle:{color:'#333'}},
    axisLabel:{customValues:yLabelValues,rotate:90,margin:5,align:'center',verticalAlign:'bottom',fontFamily:FONT,fontWeight:'bold',fontSize:11,color:'#222',formatter:v=>String(v)}});
  [0,1,2].forEach(k=>{
    const zone=p.d[k];
    series.push({type:'custom',xAxisIndex:i,yAxisIndex:i,coordinateSystem:'cartesian2d',silent:true,clip:true,animation:false,
      data:zone,encode:{x:0,y:1},
      renderItem:(params,api)=>{
        if(params.dataIndex!==0) return null;
        return {type:'polygon',shape:{points:zone.map(q=>api.coord(q))},style:{fill:fills[k]}};
      }});
  });
  series.push({type:'line',xAxisIndex:i,yAxisIndex:i,data:p.d[3],showSymbol:false,silent:true,animation:false,
    lineStyle:{color:'#000',width:2,type:[1,1]}});
  series.push({type:'scatter',xAxisIndex:i,yAxisIndex:i,data:p.d[4],symbol:'circle',symbolSize:1.9,silent:true,animation:false,
    itemStyle:{color:'#000',opacity:1}});
  graphic.push({type:'text',x:p.rxy[0],y:p.rxy[1],silent:true,style:{text:p.r,fill:'#f5333f',font:'bold 12.5px '+FONT,textAlign:'right',textVerticalAlign:'middle'}});
});
headings.forEach(([s,x])=>graphic.push({type:'text',x,y:30,silent:true,style:{text:s,fill:'#111',font:'bold 16.5px '+FONT,textAlign:'center',textVerticalAlign:'middle'}}));
graphic.push({type:'text',x:13,y:25,silent:true,style:{text:'A',fill:'#111',font:'bold 24px '+FONT,textAlign:'left',textVerticalAlign:'middle'}});

const chart=echarts.init(document.getElementById('c'),null,{renderer:'canvas',width:1210,height:1620});
chart.setOption({animation:false,backgroundColor:'#fff',textStyle:{fontFamily:FONT},grid,xAxis,yAxis,series,graphic});
</script></body></html>
